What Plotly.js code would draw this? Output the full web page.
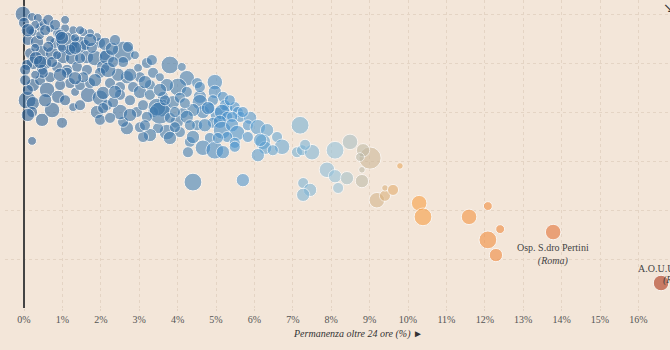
<!DOCTYPE html>
<html>
<head>
<meta charset="utf-8">
<script src="https://cdn.plot.ly/plotly-3.0.1.min.js"></script>
<style>html,body{margin:0;padding:0;background:#f3e6d9;}#chart{width:670px;height:350px;}</style>
</head>
<body>
<div id="chart"></div>
<script>
// Permanenza oltre 24 ore (%) per ospedale
const permanenza = [
-0.03,0.00,0.21,0.23,0.10,0.34,0.42,0.49,0.36,0.47,0.16,0.23,0.08,0.03,0.55,0.73,0.81,0.89,0.68,0.42,
1.12,1.02,0.86,1.25,1.46,1.38,1.64,1.85,1.98,1.90,1.72,1.54,1.28,1.07,0.73,1.12,0.47,1.64,2.06,0.68,
0.29,0.94,0.55,0.16,0.63,1.20,0.99,1.59,1.77,1.33,0.29,0.86,1.46,2.11,
0.08,0.23,0.21,0.23,0.42,0.60,0.68,0.89,0.73,0.99,0.21,1.20,1.28,1.33,1.67,1.46,1.72,1.98,1.90,1.98,
2.16,1.12,0.49,1.54,1.98,0.10,0.03,0.29,0.94,2.24,
2.58,2.71,2.16,3.20,3.36,3.80,4.11,4.24,4.01,3.72,3.54,3.28,2.97,3.02,2.68,2.45,2.19,2.50,2.84,3.02,
4.24,4.51,4.97,4.97,5.18,4.58,3.62,3.28,2.50,2.06,2.58,2.89,2.32,
3.59,3.88,4.06,4.58,4.66,4.40,4.14,4.92,5.05,4.92,4.84,4.32,4.27,4.66,4.97,4.51,3.98,4.06,3.72,3.49,
3.28,3.10,3.02,2.68,2.58,2.50,2.32,2.94,3.10,2.06,3.36,4.19,4.84,5.29,3.46,3.54,3.20,3.80,4.24,2.76,
3.67,4.40,5.70,
5.23,5.16,5.29,5.49,5.57,5.63,5.42,5.10,5.16,5.42,5.55,5.29,5.05,4.40,3.93,3.80,5.49,5.89,5.70,5.83,
5.83,6.09,6.33,6.22,6.28,6.59,6.72,6.48,6.09,7.19,7.11,7.24,7.50,7.32,8.10,8.49,7.89,8.10,8.41,8.80,
8.18,7.27,7.45,7.27,9.01,8.83,8.75,8.80,9.79,9.19,9.40,9.40,9.61,5.49,5.18,6.15,
10.29,10.39,11.59,12.08,12.08,12.40,12.29,13.78,16.59,
0.10,0.31,0.63,0.81,0.99,1.33,1.72,2.11,2.29,0.42,0.94,1.33,1.85,2.37,2.76,3.15,3.54,0.10,0.55,1.07,
1.46,0.47,2.24,2.76,3.15,3.93,4.32,4.71,4.58,4.79,5.36,3.33,2.37,1.46,1.07
];
// secondo indicatore (asse verticale, senza etichette)
const indicatore = [
60.0,58.2,59.4,56.3,54.7,54.3,57.3,58.2,59.2,52.2,52.0,50.0,49.6,48.6,50.0,52.0,54.1,56.1,57.1,55.7,
54.1,51.2,49.2,51.0,53.7,49.2,51.2,51.0,54.1,55.3,56.1,56.3,56.7,57.1,50.2,48.6,48.6,48.6,49.2,54.7,
57.8,55.7,56.7,56.7,53.3,52.7,53.1,53.7,53.1,55.1,53.1,51.6,51.0,51.6,
42.4,41.8,40.0,45.5,46.5,44.5,47.1,43.1,40.4,37.8,34.1,45.9,41.0,44.1,43.5,45.5,45.9,42.9,40.0,38.4,
41.4,48.0,48.0,47.1,48.0,44.5,46.5,47.6,45.5,45.9,
52.2,53.3,51.2,50.0,48.0,49.6,49.2,46.9,45.1,45.5,47.1,45.5,49.0,47.1,47.1,47.6,48.6,45.1,45.1,44.1,
44.1,45.9,46.1,44.1,43.1,43.1,43.1,43.5,43.5,43.9,50.2,51.6,50.2,
40.8,42.0,42.9,42.0,40.0,40.4,39.8,42.4,39.4,37.8,34.7,33.9,31.8,32.7,32.2,37.3,38.0,35.9,35.9,36.7,
35.3,34.9,36.9,36.7,38.0,40.0,42.0,40.0,41.4,40.8,40.0,41.8,40.8,40.8,41.0,39.8,39.0,38.8,39.0,42.4,
42.4,25.7,26.1,
41.4,40.0,39.0,41.0,40.0,39.0,39.0,38.0,36.3,37.3,35.7,34.9,34.7,34.9,36.9,34.7,33.7,38.8,40.0,37.3,
34.9,36.9,36.3,33.9,32.7,34.9,32.9,32.2,31.2,37.3,31.8,32.2,31.8,33.3,32.2,33.9,28.2,26.9,26.5,25.9,
24.5,25.5,24.1,23.1,30.6,32.2,30.8,28.2,29.0,22.0,22.9,24.5,24.1,32.9,31.8,34.3,
21.4,18.6,18.6,20.8,13.9,16.1,10.8,15.5,5.1,
56.7,51.0,58.8,57.8,55.1,53.1,54.7,53.9,52.9,50.2,47.6,46.9,46.5,44.1,47.6,46.1,44.5,39.4,42.4,42.4,
41.4,38.4,38.8,39.4,37.3,40.0,37.3,37.3,45.1,40.8,42.4,50.6,54.7,56.7,58.8
];
// dimensione (volume) di ciascun ospedale
const volume = [
14,10,8,8,10,12,8,8,8,12,10,12,10,10,12,12,10,10,8,8,
20,12,10,12,16,10,12,14,10,8,8,8,8,8,10,10,10,10,12,8,
8,10,10,8,10,10,8,10,10,8,8,8,10,10,
16,12,10,12,10,14,10,12,14,10,8,10,8,8,14,10,10,14,12,10,
10,10,10,10,10,10,10,8,10,10,
20,10,14,10,10,16,8,14,16,12,8,10,8,10,12,12,14,10,10,12,
10,10,14,12,10,12,10,10,10,12,10,8,10,
16,12,10,14,12,12,10,10,14,10,10,10,10,14,16,10,12,10,14,10,
12,10,10,12,10,14,10,10,10,10,10,10,10,10,16,20,10,10,12,10,
10,16,12,
10,14,10,10,10,10,10,12,16,12,14,10,10,12,10,12,10,12,10,10,
10,14,12,14,12,10,14,10,12,16,10,10,14,10,16,14,14,12,12,12,
10,10,12,12,20,12,8,6,6,14,10,6,10,10,12,12,
14,16,14,8,16,8,12,14,14,
12,12,10,10,12,12,12,12,12,12,12,12,12,12,12,12,12,12,12,10,
10,12,10,12,10,10,10,12,10,12,10,10,10,8,8
];
const xTicks = [0,1,2,3,4,5,6,7,8,9,10,11,12,13,14,15,16];
const xTickLabels = xTicks.map(v => v + '%');
const yGrid = [10,20,30,40,50,60];

const trace = {
  type: 'scatter', mode: 'markers',
  x: permanenza, y: indicatore,
  marker: {
    size: volume, sizemode: 'diameter', sizeref: 0.9,
    color: permanenza, cmin: 0, cmax: 17,
    colorscale: [
      [0, '#2d639a'], [0.24, '#447fb2'], [0.32, '#4b95d0'], [0.42, '#78b1d4'],
      [0.48, '#96c3dc'], [0.53, '#cdb999'], [0.6, '#f8a044'], [0.71, '#f28e40'],
      [0.81, '#e37237'], [0.975, '#ac3517'], [1, '#a83015']
    ],
    opacity: 0.6,
    line: {color: '#ffffff', width: 1}
  },
  hoverinfo: 'x+y', showlegend: false
};

const font = {family: 'Liberation Serif, serif', size: 10, color: '#444'};
const layout = {
  width: 670, height: 350,
  margin: {l: 5, r: 0, t: 0, b: 42},
  paper_bgcolor: '#f3e6d9', plot_bgcolor: '#f3e6d9',
  font: font,
  showlegend: false,
  xaxis: {
    range: [-0.495, 16.823], fixedrange: true,
    tickvals: xTicks, ticktext: xTickLabels,
    showgrid: true, gridcolor: '#e4d4c4', griddash: 'dot', gridwidth: 1,
    zeroline: true, zerolinecolor: '#444', zerolinewidth: 1.5,
    ticks: 'outside', ticklen: 2, tickcolor: '#e2d3c4',
    showline: false,
    tickfont: {family: 'Liberation Serif, serif', size: 10, color: '#555'}
  },
  yaxis: {
    range: [0, 62.86], fixedrange: true,
    tickvals: yGrid, showticklabels: false,
    showgrid: true, gridcolor: '#e4d4c4', griddash: 'dot', gridwidth: 1,
    zeroline: false, showline: false, ticks: ''
  },
  annotations: [
    {xref: 'paper', yref: 'paper', x: 0.531, y: -0.084, xanchor: 'center', yanchor: 'middle',
     text: '<i>Permanenza oltre 24 ore (%)</i> ►', showarrow: false,
     font: {family: 'Liberation Serif, serif', size: 10, color: '#333'}},
    {x: 13.78, y: 13.87, xref: 'x', yref: 'y', xanchor: 'center', yanchor: 'top',
     text: 'Osp. S.dro Pertini<br><i>(Roma)</i>', showarrow: false,
     font: {family: 'Liberation Serif, serif', size: 10, color: '#444'}},
    {x: 15.94, y: 8.16, xref: 'x', yref: 'y', xanchor: 'left', yanchor: 'middle',
     text: 'A.O.U.Umberto I', showarrow: false,
     font: {family: 'Liberation Serif, serif', size: 10, color: '#444'}},
    {x: 16.59, y: 5.71, xref: 'x', yref: 'y', xanchor: 'left', yanchor: 'middle',
     text: '<i>(Roma)</i>', showarrow: false,
     font: {family: 'Liberation Serif, serif', size: 10, color: '#444'}},
    {xref: 'paper', yref: 'paper', x: 0.987, y: 0.975, xanchor: 'left', yanchor: 'middle',
     text: '↘', showarrow: false,
     font: {family: 'DejaVu Sans, sans-serif', size: 13, color: '#333'}}
  ]
};

Plotly.newPlot('chart', [trace], layout, {displayModeBar: false, staticPlot: true});
</script>
</body>
</html>
